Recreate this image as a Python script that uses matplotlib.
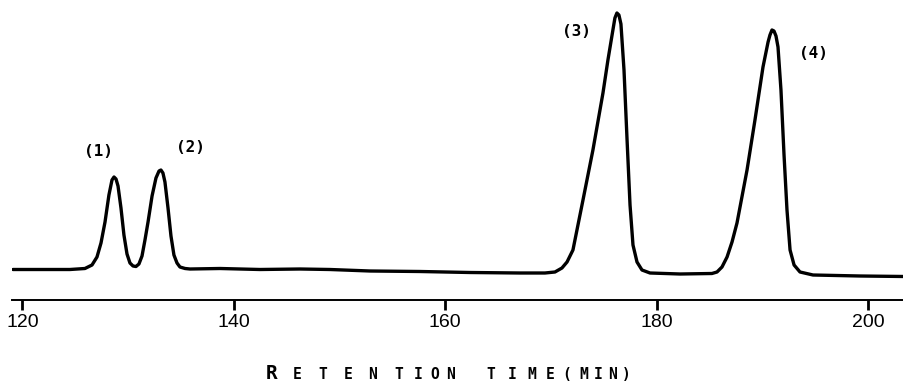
import matplotlib
matplotlib.use('Agg')
from matplotlib import pyplot as plt

# Chromatogram trace (retention time in min, detector signal, arbitrary units)
time_min = [119.1, 121.66, 124.49, 125.91, 126.58, 127.05, 127.43, 127.81, 128.18, 128.47,
            128.66, 128.85, 129.04, 129.32, 129.60, 129.89, 130.17, 130.46, 130.74, 131.02,
            131.31, 131.59, 131.88, 132.26, 132.63, 132.92, 133.10, 133.29, 133.48, 133.77,
            134.05, 134.33, 134.62, 134.90, 135.38, 135.85, 138.69, 142.47, 146.26, 149.09,
            152.88, 157.61, 162.34, 167.07, 169.43, 170.38, 171.04, 171.52, 172.08, 173.03,
            173.97, 174.92, 175.39, 175.86, 176.05, 176.24, 176.43, 176.62, 176.91, 177.20,
            177.48, 177.76, 178.14, 178.61, 179.37, 182.21, 185.23, 185.71, 186.18, 186.66,
            187.13, 187.60, 188.55, 189.30, 190.06, 190.54, 190.72, 190.91, 191.10, 191.29,
            191.48, 191.76, 192.05, 192.33, 192.62, 193.00, 193.56, 194.79, 199.24, 203.40]
signal = [30.5, 30.5, 30.5, 31.5, 35, 43, 57, 78, 105, 120,
          123, 121, 114, 92, 65, 46, 37, 34, 33.5, 36,
          44, 60, 78, 104, 122, 129, 130, 127, 118, 92,
          64, 45, 37, 33, 31.5, 31, 31.5, 30.5, 31, 30.5,
          29, 28.5, 27.5, 27, 27, 28, 32, 38, 50, 100,
          150, 207, 240, 270, 282, 287, 285, 276, 230, 160,
          95, 55, 38, 30, 27, 26, 26.5, 28, 33, 43,
          58, 77, 130, 180, 233, 258, 265, 270, 269, 264,
          253, 210, 145, 90, 50, 35, 28, 25, 24, 23.5]

tick_values = [120, 140, 160, 180, 200]

# peak labels and where they sit (time, signal)
peak_labels = ['(1)', '(2)', '(3)', '(4)']
peak_label_time = [127.2, 135.9, 172.4, 194.8]
peak_label_signal = [149, 153, 268, 247]

W, H = 904, 383
fig = plt.figure(figsize=(W / 100, H / 100), dpi=100)
ax = fig.add_axes([12 / W, 83 / H, 892 / W, 300 / H])

ax.plot(time_min, signal, color='black', linewidth=2.4, solid_capstyle='round', solid_joinstyle='round')

ax.set_xlim(119.01, 203.4)
ax.set_ylim(0, 300)

for name in ['top', 'right', 'left']:
	ax.spines[name].set_visible(False)
ax.spines['bottom'].set_linewidth(1.4)
ax.set_yticks([])
ax.set_xticks(tick_values)
ax.set_xticklabels([str(v) for v in tick_values], family=['Liberation Sans', 'DejaVu Sans'], fontsize=14)
ax.tick_params(axis='x', direction='out', length=7, width=2, pad=3)

for lab, t, s in zip(peak_labels, peak_label_time, peak_label_signal):
	ax.text(t, s, lab, ha='center', va='center', fontsize=11.5, fontweight='bold',
	        family=['DejaVu Sans Mono'])

# axis caption in spaced small caps
caption = [('R', 272, 14), ('E', 297, 10.5), ('T', 323, 10.5), ('E', 348, 10.5), ('N', 373, 10.5),
           ('T', 399, 10.5), ('I', 418, 10.5), ('O', 435, 10.5), ('N', 451, 10.5),
           ('T', 491, 10.5), ('I', 512, 10.5), ('M', 532, 10.5), ('E', 550, 10.5),
           ('(', 567, 10.5), ('M', 584, 10.5), ('I', 598, 10.5), ('N', 613, 10.5), (')', 626, 10.5)]
for ch, px, size in caption:
	fig.text(px / W, 1 - 379 / H, ch, ha='center', va='baseline', fontsize=size,
	         fontweight='bold', family=['DejaVu Sans Mono'])

plt.savefig('out.png', dpi=100)
